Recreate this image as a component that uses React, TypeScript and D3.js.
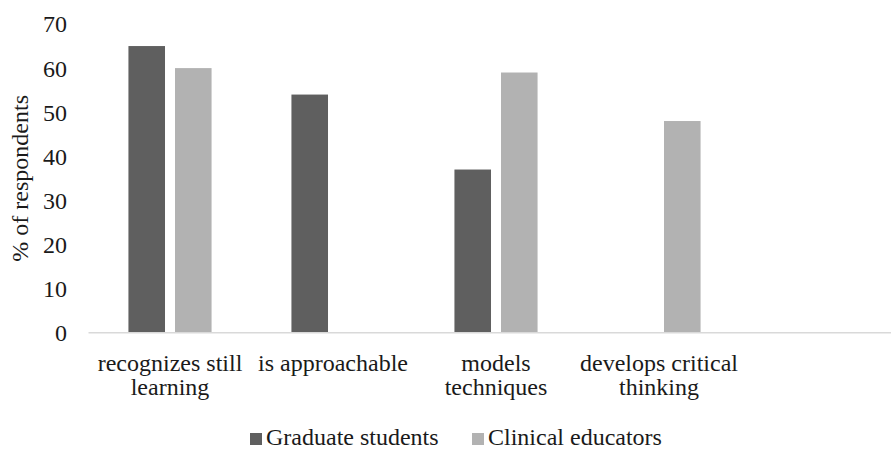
import React from 'react';
import * as d3 from 'd3';

// chart data
const categories = ['c1', 'c2', 'c3', 'c4', 'c5'];
const categoryLabels = [
  ['recognizes still', 'learning'],
  ['is approachable'],
  ['models', 'techniques'],
  ['develops critical', 'thinking'],
  [],
];
const seriesNames = ['Graduate students', 'Clinical educators'];
const graduateValues = [65, 54, 37, null, null];
const clinicalValues = [60, null, 59, 48, null];
const yTicks = [0, 10, 20, 30, 40, 50, 60, 70];

const colors = ['#5f5f5f', '#b2b2b2'];
const W = 891;
const H = 449;
const font = '"Liberation Serif", "Times New Roman", serif';
const fs = 24;

export default function App() {
  const x0 = d3.scaleBand().domain(categories).range([88.5, 903.5]).padding(0);
  const groupW = x0.bandwidth() * 0.51;
  const x1 = d3.scaleBand().domain(seriesNames).range([0, groupW]).paddingInner(0.2146);
  const y = d3.scaleLinear().domain([0, 70]).range([332.7, 24]);

  const series = [graduateValues, clinicalValues];

  return (
    <svg width={W} height={H} style={{ display: 'block', position: 'absolute', left: 0, top: 0 }}
      fontFamily={font}>
      <rect width={W} height={H} fill="#fff" />
      {yTicks.map(t => (
        <text key={t} x={67} y={y(t)} dy="0.35em" textAnchor="end" fontSize={fs} fill="#1a1a1a">{t}</text>
      ))}
      <text transform={`translate(20,${(y(0) + y(70)) / 2}) rotate(-90)`} textAnchor="middle"
        fontSize={fs} fill="#1a1a1a" dy="0.35em">% of respondents</text>
      {series.map((vals, si) => (
        <g key={si}>
          {vals.map((v, i) => v == null ? null : (
            <rect key={i}
              x={x0(categories[i])! + (x0.bandwidth() - groupW) / 2 + x1(seriesNames[si])!}
              y={y(v)} width={x1.bandwidth()} height={y(0) - y(v)} fill={colors[si]} />
          ))}
        </g>
      ))}
      <line x1={x0.range()[0]} x2={x0.range()[1]} y1={y(0)} y2={y(0)} stroke="#d9d9d9" strokeWidth={1.5} />
      {categoryLabels.map((lines, i) => (
        <text key={i} x={x0(categories[i])! + x0.bandwidth() / 2} y={370.5} textAnchor="middle"
          fontSize={fs} fill="#1a1a1a">
          {lines.map((l, j) => (
            <tspan key={j} x={x0(categories[i])! + x0.bandwidth() / 2} dy={j === 0 ? 0 : 24.5}>{l}</tspan>
          ))}
        </text>
      ))}
      {seriesNames.map((s, i) => {
        const lx = [250, 472][i];
        return (
          <g key={s}>
            <rect x={lx} y={433} width={12} height={12} fill={colors[i]} />
            <text x={lx + 16} y={445} fontSize={fs} fill="#1a1a1a">{s}</text>
          </g>
        );
      })}
    </svg>
  );
}
